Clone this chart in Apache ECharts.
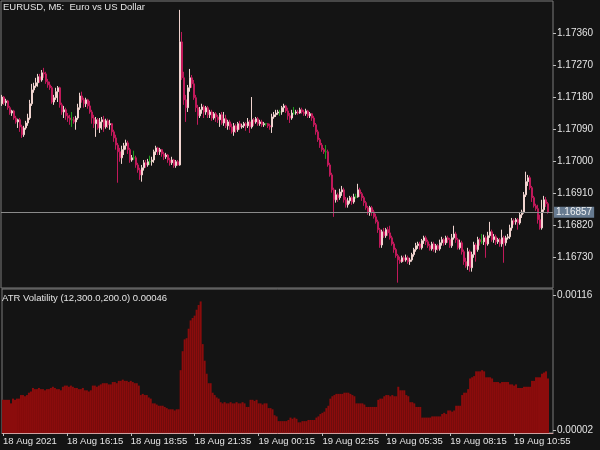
<!DOCTYPE html>
<html><head><meta charset="utf-8">
<script src="https://cdn.jsdelivr.net/npm/echarts@6/dist/echarts.min.js"></script>
<style>html,body{margin:0;padding:0;background:#141414}#c{width:600px;height:450px}</style>
</head><body><div id="c"></div>
<script>
// ---- data ----
const symbolTitle = 'EURUSD, M5:  Euro vs US Dollar';
const atrName = 'ATR Volatility (12,300.0,200.0)';
const startDay = '18 Aug', startHour = 13, startMin = 35, stepMin = 5;
const tickIdx = [0, 32, 64, 96, 128, 160, 192, 224, 256];
const tickLabels = ['18 Aug 2021','18 Aug 16:15','18 Aug 18:55','18 Aug 21:35','19 Aug 00:15','19 Aug 02:55','19 Aug 05:35','19 Aug 08:15','19 Aug 10:55'];
const priceTicks = [1.1673, 1.1682, 1.1691, 1.1700, 1.1709, 1.1718, 1.1727, 1.1736];
const atrTicks = [0.00002, 0.00116];
// [open, close, low, high]
const candles = [
[1.17162,1.17181,1.17156,1.17187],[1.17181,1.17165,1.17159,1.17184],[1.17165,1.17170,1.17156,1.17176],[1.17170,1.17151,1.17145,1.17173],
[1.17151,1.17136,1.17131,1.17156],[1.17136,1.17142,1.17128,1.17145],[1.17142,1.17122,1.17117,1.17145],[1.17122,1.17111,1.17106,1.17128],
[1.17111,1.17117,1.17094,1.17120],[1.17117,1.17097,1.17083,1.17122],[1.17097,1.17075,1.17066,1.17103],[1.17075,1.17094,1.17069,1.17100],
[1.17094,1.17108,1.17089,1.17114],[1.17108,1.17122,1.17100,1.17134],[1.17122,1.17162,1.17117,1.17173],[1.17162,1.17201,1.17156,1.17218],
[1.17201,1.17212,1.17193,1.17221],[1.17212,1.17221,1.17207,1.17235],[1.17221,1.17238,1.17210,1.17246],[1.17238,1.17229,1.17221,1.17246],
[1.17229,1.17249,1.17224,1.17257],[1.17249,1.17246,1.17235,1.17263],[1.17246,1.17224,1.17218,1.17252],[1.17224,1.17215,1.17207,1.17232],
[1.17215,1.17207,1.17201,1.17224],[1.17207,1.17167,1.17162,1.17212],[1.17167,1.17179,1.17159,1.17187],[1.17179,1.17196,1.17173,1.17207],
[1.17196,1.17207,1.17167,1.17212],[1.17207,1.17159,1.17151,1.17210],[1.17159,1.17139,1.17131,1.17165],[1.17139,1.17145,1.17122,1.17156],
[1.17145,1.17128,1.17117,1.17151],[1.17128,1.17122,1.17111,1.17136],[1.17122,1.17117,1.17103,1.17131],[1.17117,1.17117,1.17097,1.17139],
[1.17117,1.17111,1.17106,1.17125],[1.17111,1.17122,1.17089,1.17128],[1.17122,1.17151,1.17117,1.17162],[1.17151,1.17184,1.17145,1.17193],
[1.17184,1.17173,1.17165,1.17196],[1.17173,1.17162,1.17151,1.17179],[1.17162,1.17173,1.17153,1.17179],[1.17173,1.17156,1.17148,1.17176],
[1.17156,1.17139,1.17134,1.17170],[1.17139,1.17122,1.17106,1.17145],[1.17122,1.17106,1.17094,1.17131],[1.17106,1.17117,1.17069,1.17125],
[1.17117,1.17094,1.17089,1.17122],[1.17094,1.17111,1.17080,1.17122],[1.17111,1.17117,1.17089,1.17125],[1.17117,1.17097,1.17083,1.17128],
[1.17097,1.17114,1.17092,1.17120],[1.17114,1.17103,1.17094,1.17120],[1.17103,1.17106,1.17089,1.17117],[1.17106,1.17083,1.17072,1.17108],
[1.17083,1.17066,1.17055,1.17089],[1.17066,1.17046,1.17033,1.17075],[1.17046,1.17027,1.16940,1.17052],[1.17027,1.17010,1.16999,1.17038],
[1.17010,1.17033,1.16993,1.17044],[1.17033,1.17044,1.17018,1.17052],[1.17044,1.17052,1.17033,1.17061],[1.17052,1.17033,1.17021,1.17058],
[1.17033,1.17004,1.16996,1.17038],[1.17004,1.17010,1.16999,1.17018],[1.17010,1.17010,1.17004,1.17030],[1.17010,1.16990,1.16982,1.17016],
[1.16990,1.16976,1.16968,1.16996],[1.16976,1.16962,1.16948,1.16982],[1.16962,1.16982,1.16943,1.16990],[1.16982,1.16996,1.16974,1.17004],
[1.16996,1.16990,1.16982,1.17004],[1.16990,1.16999,1.16985,1.17007],[1.16999,1.16999,1.16990,1.17016],[1.16999,1.17004,1.16988,1.17013],
[1.17004,1.17027,1.16996,1.17033],[1.17027,1.17038,1.17018,1.17044],[1.17038,1.17027,1.17018,1.17041],[1.17027,1.17033,1.17018,1.17038],
[1.17033,1.17021,1.17013,1.17035],[1.17021,1.17013,1.17004,1.17027],[1.17013,1.17018,1.17007,1.17024],[1.17018,1.17004,1.16996,1.17021],
[1.17004,1.16996,1.16988,1.17010],[1.16996,1.17004,1.16990,1.17013],[1.17004,1.16988,1.16982,1.17007],[1.16988,1.16999,1.16982,1.17004],
[1.16999,1.16990,1.16988,1.17004],[1.16990,1.17336,1.16988,1.17426],[1.17336,1.17235,1.17229,1.17364],[1.17235,1.17173,1.17159,1.17252],
[1.17173,1.17151,1.17111,1.17187],[1.17151,1.17207,1.17139,1.17215],[1.17207,1.17235,1.17196,1.17260],[1.17235,1.17218,1.17207,1.17243],
[1.17218,1.17179,1.17173,1.17229],[1.17179,1.17151,1.17139,1.17187],[1.17151,1.17128,1.17103,1.17159],[1.17128,1.17145,1.17122,1.17153],
[1.17145,1.17153,1.17134,1.17162],[1.17153,1.17139,1.17122,1.17159],[1.17139,1.17151,1.17131,1.17156],[1.17151,1.17131,1.17122,1.17156],
[1.17131,1.17139,1.17122,1.17145],[1.17139,1.17122,1.17114,1.17145],[1.17122,1.17134,1.17117,1.17139],[1.17134,1.17125,1.17111,1.17139],
[1.17125,1.17117,1.17108,1.17131],[1.17117,1.17131,1.17097,1.17136],[1.17131,1.17108,1.17103,1.17139],[1.17108,1.17120,1.17100,1.17139],
[1.17120,1.17100,1.17094,1.17131],[1.17100,1.17111,1.17089,1.17117],[1.17111,1.17097,1.17089,1.17117],[1.17097,1.17083,1.17078,1.17106],
[1.17083,1.17100,1.17072,1.17108],[1.17100,1.17089,1.17080,1.17106],[1.17089,1.17106,1.17083,1.17111],[1.17106,1.17097,1.17089,1.17114],
[1.17097,1.17100,1.17092,1.17106],[1.17100,1.17106,1.17094,1.17111],[1.17106,1.17100,1.17086,1.17111],[1.17100,1.17111,1.17094,1.17122],
[1.17111,1.17097,1.17080,1.17117],[1.17097,1.17117,1.17092,1.17181],[1.17117,1.17111,1.17100,1.17122],[1.17111,1.17120,1.17106,1.17125],
[1.17120,1.17106,1.17100,1.17125],[1.17106,1.17111,1.17100,1.17117],[1.17111,1.17103,1.17097,1.17117],[1.17103,1.17106,1.17097,1.17111],
[1.17106,1.17106,1.17100,1.17108],[1.17106,1.17100,1.17094,1.17108],[1.17100,1.17097,1.17089,1.17106],[1.17097,1.17125,1.17080,1.17134],
[1.17125,1.17131,1.17120,1.17139],[1.17131,1.17136,1.17125,1.17145],[1.17136,1.17139,1.17131,1.17145],[1.17139,1.17139,1.17128,1.17145],
[1.17139,1.17151,1.17131,1.17156],[1.17151,1.17156,1.17139,1.17162],[1.17156,1.17142,1.17136,1.17159],[1.17142,1.17128,1.17117,1.17151],
[1.17128,1.17122,1.17108,1.17136],[1.17122,1.17136,1.17117,1.17145],[1.17136,1.17136,1.17131,1.17153],[1.17136,1.17139,1.17131,1.17145],
[1.17139,1.17136,1.17131,1.17145],[1.17136,1.17145,1.17134,1.17151],[1.17145,1.17139,1.17134,1.17151],[1.17139,1.17134,1.17128,1.17145],
[1.17134,1.17142,1.17128,1.17148],[1.17142,1.17128,1.17122,1.17145],[1.17128,1.17134,1.17122,1.17139],[1.17134,1.17122,1.17114,1.17136],
[1.17122,1.17103,1.17097,1.17128],[1.17103,1.17083,1.17075,1.17108],[1.17083,1.17061,1.17055,1.17089],[1.17061,1.17046,1.17038,1.17066],
[1.17046,1.17033,1.17027,1.17052],[1.17033,1.17027,1.17021,1.17038],[1.17027,1.17027,1.17007,1.17046],[1.17027,1.16990,1.16985,1.17033],
[1.16990,1.16962,1.16957,1.16996],[1.16962,1.16920,1.16912,1.16968],[1.16920,1.16892,1.16844,1.16926],[1.16892,1.16906,1.16884,1.16920],
[1.16906,1.16898,1.16886,1.16912],[1.16898,1.16914,1.16892,1.16923],[1.16914,1.16920,1.16903,1.16931],[1.16920,1.16892,1.16884,1.16926],
[1.16892,1.16878,1.16870,1.16900],[1.16878,1.16889,1.16870,1.16898],[1.16889,1.16898,1.16881,1.16903],[1.16898,1.16886,1.16878,1.16903],
[1.16886,1.16900,1.16881,1.16909],[1.16900,1.16900,1.16895,1.16909],[1.16900,1.16920,1.16898,1.16937],[1.16920,1.16909,1.16900,1.16926],
[1.16909,1.16898,1.16889,1.16914],[1.16898,1.16884,1.16875,1.16903],[1.16884,1.16870,1.16864,1.16889],[1.16870,1.16856,1.16850,1.16875],
[1.16856,1.16870,1.16847,1.16875],[1.16870,1.16858,1.16847,1.16875],[1.16858,1.16844,1.16839,1.16864],[1.16844,1.16830,1.16825,1.16853],
[1.16830,1.16808,1.16799,1.16836],[1.16808,1.16765,1.16757,1.16813],[1.16765,1.16802,1.16757,1.16808],[1.16802,1.16791,1.16785,1.16813],
[1.16791,1.16808,1.16785,1.16813],[1.16808,1.16799,1.16791,1.16816],[1.16799,1.16785,1.16780,1.16819],[1.16785,1.16768,1.16763,1.16791],
[1.16768,1.16752,1.16743,1.16774],[1.16752,1.16735,1.16729,1.16757],[1.16735,1.16723,1.16659,1.16740],[1.16723,1.16718,1.16712,1.16732],
[1.16718,1.16729,1.16715,1.16735],[1.16729,1.16723,1.16718,1.16735],[1.16723,1.16729,1.16718,1.16738],[1.16729,1.16718,1.16712,1.16735],
[1.16718,1.16723,1.16709,1.16729],[1.16723,1.16738,1.16718,1.16743],[1.16738,1.16752,1.16732,1.16757],[1.16752,1.16763,1.16746,1.16771],
[1.16763,1.16768,1.16754,1.16774],[1.16768,1.16757,1.16752,1.16774],[1.16757,1.16777,1.16752,1.16782],[1.16777,1.16785,1.16768,1.16791],
[1.16785,1.16774,1.16765,1.16791],[1.16774,1.16763,1.16757,1.16780],[1.16763,1.16754,1.16749,1.16768],[1.16754,1.16768,1.16749,1.16774],
[1.16768,1.16752,1.16746,1.16774],[1.16752,1.16763,1.16743,1.16768],[1.16763,1.16754,1.16749,1.16768],[1.16754,1.16771,1.16749,1.16780],
[1.16771,1.16780,1.16763,1.16788],[1.16780,1.16771,1.16763,1.16785],[1.16771,1.16785,1.16765,1.16791],[1.16785,1.16780,1.16771,1.16791],
[1.16780,1.16763,1.16757,1.16785],[1.16763,1.16785,1.16757,1.16796],[1.16785,1.16796,1.16780,1.16819],[1.16796,1.16780,1.16771,1.16802],
[1.16780,1.16757,1.16752,1.16785],[1.16757,1.16771,1.16752,1.16780],[1.16771,1.16746,1.16738,1.16777],[1.16746,1.16718,1.16709,1.16752],
[1.16718,1.16706,1.16701,1.16729],[1.16706,1.16746,1.16695,1.16757],[1.16746,1.16701,1.16690,1.16752],[1.16701,1.16738,1.16690,1.16746],
[1.16738,1.16765,1.16729,1.16774],[1.16765,1.16752,1.16718,1.16771],[1.16752,1.16780,1.16746,1.16788],[1.16780,1.16774,1.16763,1.16785],
[1.16774,1.16774,1.16768,1.16796],[1.16774,1.16785,1.16765,1.16794],[1.16785,1.16768,1.16729,1.16791],[1.16768,1.16791,1.16763,1.16802],
[1.16791,1.16802,1.16785,1.16830],[1.16802,1.16780,1.16774,1.16808],[1.16780,1.16788,1.16771,1.16796],[1.16788,1.16774,1.16765,1.16794],
[1.16774,1.16780,1.16768,1.16785],[1.16780,1.16768,1.16760,1.16785],[1.16768,1.16785,1.16760,1.16808],[1.16785,1.16771,1.16715,1.16791],
[1.16771,1.16785,1.16763,1.16791],[1.16785,1.16788,1.16780,1.16796],[1.16788,1.16813,1.16782,1.16822],[1.16813,1.16833,1.16805,1.16841],
[1.16833,1.16830,1.16822,1.16839],[1.16830,1.16836,1.16822,1.16841],[1.16836,1.16827,1.16808,1.16841],[1.16827,1.16850,1.16822,1.16856],
[1.16850,1.16858,1.16841,1.16864],[1.16858,1.16906,1.16853,1.16914],[1.16906,1.16943,1.16900,1.16971],[1.16943,1.16954,1.16931,1.16962],
[1.16954,1.16926,1.16920,1.16960],[1.16926,1.16898,1.16886,1.16931],[1.16898,1.16875,1.16870,1.16903],[1.16875,1.16867,1.16861,1.16881],
[1.16867,1.16836,1.16825,1.16878],[1.16836,1.16813,1.16808,1.16850],[1.16813,1.16864,1.16808,1.16892],[1.16864,1.16892,1.16858,1.16903],
[1.16892,1.16881,1.16872,1.16900],[1.16881,1.16857,1.16853,1.16886]
];
const atr = [
0.00028,0.00028,0.00028,0.00028,0.00025,0.00029,0.00028,0.00029,0.00029,0.00032,0.00032,0.00031,0.00032,0.00034,0.00035,0.00038,
0.00037,0.00037,0.00038,0.00037,0.00037,0.00036,0.00037,0.00037,0.00038,0.00039,0.00038,0.00037,0.00037,0.00036,
0.00039,0.00040,0.00040,0.00039,0.00040,0.00039,0.00038,0.00038,0.00037,0.00037,0.00038,0.00036,0.00036,0.00035,0.00036,
0.00040,0.00040,0.00039,0.00040,0.00041,0.00042,0.00042,0.00042,0.00041,0.00041,0.00043,0.00043,0.00042,
0.00044,0.00044,0.00045,0.00044,0.00044,0.00043,0.00044,0.00043,0.00042,0.00042,0.00040,
0.00032,0.00033,0.00032,0.00032,0.00030,0.00029,0.00025,0.00025,0.00024,0.00023,0.00023,0.00023,0.00022,0.00021,
0.00020,0.00020,0.00020,0.00019,0.00020,0.00020,0.00053,0.00069,0.00079,0.00080,0.00088,0.00095,0.00097,0.00099,0.00104,0.00108,0.00111,
0.00075,0.00061,0.00050,0.00042,0.00042,0.00034,0.00032,0.00030,0.00029,
0.00026,0.00025,0.00026,0.00025,0.00025,0.00026,0.00025,0.00025,0.00026,0.00025,0.00025,0.00026,0.00025,0.00022,0.00022,
0.00028,0.00028,0.00027,0.00028,0.00025,0.00025,0.00024,0.00025,0.00025,0.00021,0.00021,0.00020,0.00015,0.00014,
0.00010,0.00010,0.00010,0.00010,0.00010,0.00011,0.00013,0.00012,0.00013,0.00012,0.00009,0.00009,0.00010,0.00010,0.00010,
0.00011,0.00011,0.00011,0.00011,0.00013,0.00014,0.00016,0.00017,0.00018,0.00021,0.00023,0.00029,0.00031,
0.00032,0.00033,0.00033,0.00033,0.00033,0.00034,0.00034,0.00034,0.00033,0.00032,0.00031,
0.00025,0.00025,0.00025,0.00025,0.00024,0.00022,0.00022,0.00022,0.00022,0.00022,0.00022,0.00028,0.00029,0.00029,
0.00031,0.00032,0.00032,0.00031,0.00032,0.00031,0.00031,0.00039,0.00036,0.00036,0.00036,0.00032,0.00031,0.00026,0.00026,0.00025,
0.00022,0.00022,0.00022,0.00013,0.00013,0.00013,0.00013,0.00013,0.00014,0.00014,0.00014,0.00014,0.00014,
0.00016,0.00017,0.00016,0.00019,0.00019,0.00018,0.00019,0.00023,0.00023,0.00023,0.00032,0.00034,0.00034,0.00037,
0.00046,0.00047,0.00048,0.00052,0.00052,0.00052,0.00053,0.00052,0.00047,0.00047,0.00047,0.00046,
0.00043,0.00043,0.00043,0.00042,0.00043,0.00043,0.00043,0.00043,0.00041,0.00041,0.00040,0.00041,0.00038,0.00038,0.00038,
0.00039,0.00039,0.00039,0.00039,0.00044,0.00044,0.00047,0.00047,0.00047,0.00050,0.00051,0.00052,0.00046
];

// ---- build ----
const pad2 = n => String(n).padStart(2, '0');
const nCats = candles.length + 2;
const cats = [];
for (let i = 0; i < nCats; i++) {
  const t = startHour * 60 + startMin + i * stepMin;
  const day = t >= 1440 ? '19 Aug' : startDay;
  const m = t % 1440;
  cats.push(day + ' ' + pad2(Math.floor(m / 60)) + ':' + pad2(m % 60));
}
const BULL = '#f0d4cf', BEAR = '#c0195a', DOJI = '#1d9a1d';
const candleData = candles.map(c => {
  const col = c[0] === c[1] ? DOJI : (c[1] > c[0] ? BULL : BEAR);
  return { value: c, itemStyle: { color: col, color0: col, borderColor: col, borderColor0: col, borderColorDoji: col } };
});
const lastPrice = candles[candles.length - 1][1];
const FONT = 'Liberation Sans';
const TXT = '#e4e4e4';
const tickSet = new Set(tickIdx);

const chart = echarts.init(document.getElementById('c'), null, { renderer: 'canvas' });
chart.setOption({
  animation: false,
  backgroundColor: '#141414',
  title: [
    { text: symbolTitle, left: 3, top: 2, padding: 0,
      textStyle: { color: TXT, fontSize: 9.5, fontWeight: 'normal', fontFamily: FONT } },
    { text: atrName + ' ' + atr[atr.length - 1].toFixed(5), left: 2, top: 293, padding: 0,
      textStyle: { color: TXT, fontSize: 9.5, fontWeight: 'normal', fontFamily: FONT } }
  ],
  grid: [
    { left: 1, top: 1, width: 552, height: 287, show: true, borderColor: '#7a7a7a', borderWidth: 1, backgroundColor: 'transparent' },
    { left: 1, top: 289, width: 552, height: 144, show: true, borderColor: '#7a7a7a', borderWidth: 1, backgroundColor: 'transparent' }
  ],
  xAxis: [
    { type: 'category', gridIndex: 0, data: cats, boundaryGap: true, show: false },
    { type: 'category', gridIndex: 1, data: cats, boundaryGap: true,
      axisLine: { show: true, lineStyle: { color: '#cfa0a0', width: 1 } },
      axisTick: { show: true, alignWithLabel: true, length: 3, interval: (i) => tickSet.has(i), lineStyle: { color: '#bdbdbd' } },
      axisLabel: { show: true, interval: (i) => tickSet.has(i), align: 'left', margin: 3,
        formatter: (v, i) => tickLabels[tickIdx.indexOf(i)] || '',
        color: TXT, fontSize: 9.5, fontFamily: FONT },
      splitLine: { show: false } }
  ],
  yAxis: [
    { type: 'value', gridIndex: 0, position: 'right', min: 1.16644, max: 1.17451, scale: true,
      axisLine: { show: false }, splitLine: { show: false },
      axisTick: { show: true, length: 3, customValues: priceTicks, lineStyle: { color: '#bdbdbd' } },
      axisLabel: { show: true, customValues: priceTicks, margin: 4, formatter: v => v.toFixed(5),
        color: TXT, fontSize: 10, fontFamily: FONT } },
    { type: 'value', gridIndex: 1, position: 'right', min: 0, max: 0.0012148,
      axisLine: { show: false }, splitLine: { show: false },
      axisTick: { show: true, length: 3, customValues: atrTicks, lineStyle: { color: '#bdbdbd' } },
      axisLabel: { show: true, customValues: atrTicks, margin: 4, formatter: v => v.toFixed(5),
        color: TXT, fontSize: 10, fontFamily: FONT } }
  ],
  series: [
    { type: 'bar', xAxisIndex: 1, yAxisIndex: 1, data: atr, barCategoryGap: '0%', barGap: '0%',
      itemStyle: { color: '#8b0c0c' }, silent: true },
    { type: 'line', xAxisIndex: 0, yAxisIndex: 0, data: [], silent: true,
      markLine: { silent: true, symbol: ['none', 'none'], animation: false, precision: 5,
        lineStyle: { color: '#8a8a8a', width: 1, type: 'solid' },
        label: { position: 'end', distance: 1, formatter: () => lastPrice.toFixed(5),
          backgroundColor: '#667a90', color: '#eef0f2', padding: [1, 2, 0, 2],
          fontSize: 10, fontFamily: FONT },
        data: [{ yAxis: lastPrice }] } },
    { type: 'candlestick', xAxisIndex: 0, yAxisIndex: 0, data: candleData, barWidth: 1.5,
      itemStyle: { color: BULL, color0: BEAR, borderColor: BULL, borderColor0: BEAR, borderWidth: 1 },
      silent: true }
  ]
});
</script></body></html>
